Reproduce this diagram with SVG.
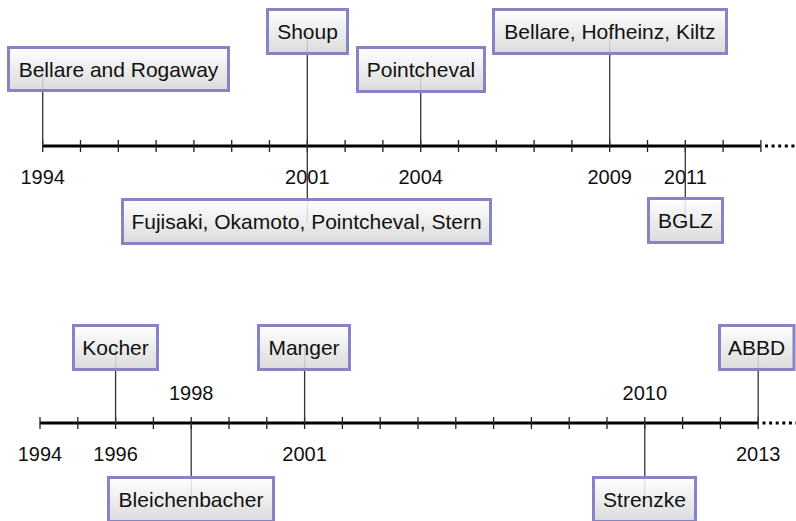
<svg xmlns="http://www.w3.org/2000/svg" width="796" height="521" viewBox="0 0 796 521">
<defs>
<linearGradient id="g" x1="0" y1="0" x2="0" y2="1">
<stop offset="0" stop-color="#ffffff"/>
<stop offset="1" stop-color="#d6d6d6"/>
</linearGradient>
</defs>
<style>
.box{fill:url(#g);fill-opacity:0.88;stroke:#8783c4;stroke-width:3}
.lbl{font-family:"Liberation Sans",Arial,sans-serif;font-size:21px;fill:#111;text-anchor:middle}
.yr{font-family:"Liberation Sans",Arial,sans-serif;font-size:20px;fill:#111;text-anchor:middle}
.axis{stroke:#000;stroke-width:3;fill:none}
.tick{stroke:#222;stroke-width:1.3;fill:none}
.dots{stroke:#000;stroke-width:3;stroke-dasharray:3 3.6;fill:none}
.conn{stroke:#333;stroke-width:1.3;fill:none}
</style>
<g id="timeline-top">
<path class="axis" d="M42.7,146 H760.9"/>
<path class="dots" d="M765,146 H796"/>
<path class="tick" d="M42.7,140v12M80.5,140v12M118.3,140v12M156.1,140v12M193.9,140v12M231.7,140v12M269.5,140v12M307.3,140v12M345.1,140v12M382.9,140v12M420.7,140v12M458.5,140v12M496.3,140v12M534.1,140v12M571.9,140v12M609.7,140v12M647.5,140v12M685.3,140v12M723.1,140v12M760.9,140v12"/>
<text class="yr" x="42.7" y="184">1994</text>
<text class="yr" x="307.3" y="184">2001</text>
<text class="yr" x="420.7" y="184">2004</text>
<text class="yr" x="609.7" y="184">2009</text>
<text class="yr" x="685.3" y="184">2011</text>
</g>
<g id="timeline-bottom">
<path class="axis" d="M40,423 H758.2"/>
<path class="dots" d="M762.5,423 H796"/>
<path class="tick" d="M40,417v12M77.8,417v12M115.6,417v12M153.4,417v12M191.2,417v12M229,417v12M266.8,417v12M304.6,417v12M342.4,417v12M380.2,417v12M418,417v12M455.8,417v12M493.6,417v12M531.4,417v12M569.2,417v12M607,417v12M644.8,417v12M682.6,417v12M720.4,417v12M758.2,417v12"/>
<text class="yr" x="191.2" y="400">1998</text>
<text class="yr" x="644.8" y="400">2010</text>
<text class="yr" x="40" y="461">1994</text>
<text class="yr" x="115.6" y="461">1996</text>
<text class="yr" x="304.6" y="461">2001</text>
<text class="yr" x="758.2" y="461">2013</text>
</g>
<g id="connectors">
<path class="conn" d="M42.7,146 V70"/>
<path class="conn" d="M307.3,146 V32"/>
<path class="conn" d="M307.3,146 V222"/>
<path class="conn" d="M420.7,146 V70"/>
<path class="conn" d="M609.7,146 V32"/>
<path class="conn" d="M685.3,146 V221"/>
<path class="conn" d="M115.6,423 V348"/>
<path class="conn" d="M304.6,423 V347"/>
<path class="conn" d="M758.2,423 V348"/>
<path class="conn" d="M191.2,423 V500"/>
<path class="conn" d="M644.8,423 V500"/>
</g>
<g id="n-bellare-rogaway"><rect class="box" x="8.5" y="47.5" width="220" height="43"/><text class="lbl" x="118.5" y="76.5">Bellare and Rogaway</text></g>
<g id="n-shoup"><rect class="box" x="267.5" y="9.5" width="80" height="44"/><text class="lbl" x="307.5" y="39">Shoup</text></g>
<g id="n-pointcheval"><rect class="box" x="357.5" y="47.5" width="127" height="44"/><text class="lbl" x="421" y="77">Pointcheval</text></g>
<g id="n-bhk"><rect class="box" x="493.5" y="9.5" width="233" height="44"/><text class="lbl" x="610" y="39">Bellare, Hofheinz, Kiltz</text></g>
<g id="n-fops"><rect class="box" x="122.5" y="199.5" width="368" height="44"/><text class="lbl" x="306.5" y="229">Fujisaki, Okamoto, Pointcheval, Stern</text></g>
<g id="n-bglz"><rect class="box" x="648.5" y="198.5" width="74" height="44"/><text class="lbl" x="685.5" y="228">BGLZ</text></g>
<g id="n-kocher"><rect class="box" x="73.5" y="325.5" width="84" height="44"/><text class="lbl" x="115.5" y="355">Kocher</text></g>
<g id="n-manger"><rect class="box" x="258.5" y="325.5" width="91" height="44"/><text class="lbl" x="304" y="355">Manger</text></g>
<g id="n-abbd"><rect class="box" x="719.5" y="325.5" width="74.5" height="44"/><text class="lbl" x="756.5" y="355">ABBD</text></g>
<g id="n-bleichenbacher"><rect class="box" x="108.5" y="477.5" width="165" height="44"/><text class="lbl" x="191" y="507">Bleichenbacher</text></g>
<g id="n-strenzke"><rect class="box" x="593.5" y="477.5" width="102" height="44"/><text class="lbl" x="644.5" y="507">Strenzke</text></g>
</svg>
